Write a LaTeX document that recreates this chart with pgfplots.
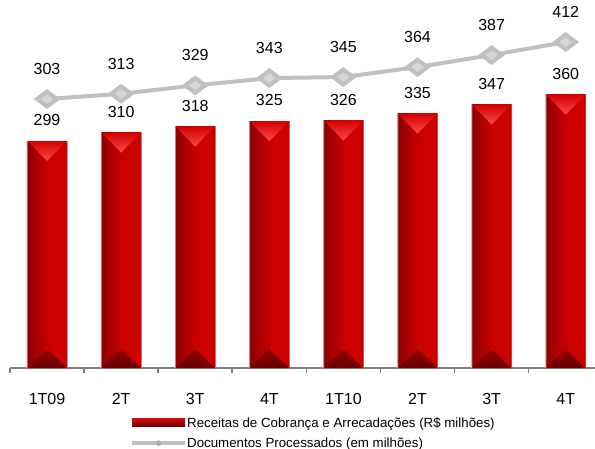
\documentclass[border=0pt]{standalone}
\usepackage{fontspec}
\setmainfont{Liberation Sans}
\usepackage{pgfplots}
\pgfplotsset{compat=1.18}
\definecolor{axgray}{RGB}{128,128,128}
\definecolor{lineGray}{RGB}{192,192,192}
\definecolor{mkGray}{RGB}{214,214,214}
\definecolor{chevTopA}{RGB}{214,0,0}
\definecolor{chevTopB}{RGB}{250,75,75}
\definecolor{chevBotA}{RGB}{105,0,0}
\definecolor{chevBotB}{RGB}{145,0,0}
\pgfdeclarehorizontalshading{barshade}{100bp}{rgb(0bp)=(0.88,0.6,0.6); rgb(25bp)=(0.88,0.6,0.6); rgb(26.5bp)=(0.55,0,0); rgb(38bp)=(0.68,0,0); rgb(49.5bp)=(0.77,0,0); rgb(50.5bp)=(0.80,0,0); rgb(70bp)=(0.81,0,0); rgb(73bp)=(0.76,0,0); rgb(75bp)=(0.95,0.75,0.75); rgb(100bp)=(0.95,0.75,0.75)}
\pgfdeclareplotmark{topchev}{%
  \path[draw=none, top color=chevTopA, bottom color=chevTopB] (-19.5bp,0bp) -- (19.5bp,0bp) -- (0bp,-20bp) -- cycle;}
\pgfdeclareplotmark{botchev}{%
  \path[draw=none, top color=chevBotB, bottom color=chevBotA] (-19.5bp,0bp) -- (19.5bp,0bp) -- (0bp,19bp) -- cycle;}
\pgfplotsset{
  mybar/.style={ybar, bar width=41bp, bar shift=0pt, draw=none, shade, shading=barshade,
    nodes near coords,
    nodes near coords style={font=\fontsize{16bp}{19bp}\selectfont, anchor=center, yshift=21bp, text=black}},
}
\begin{document}
\begin{tikzpicture}
\useasboundingbox (0,0) rectangle (595bp,449bp);
\begin{axis}[
  at={(10bp,81bp)}, anchor=south west, scale only axis,
  width=585bp, height=368bp,
  xmin=-0.5, xmax=7.395, ymin=0, ymax=484.8,
  clip=false,
  axis x line*=bottom, axis y line=none,
  axis line style={draw=axgray, line width=1.6bp},
  xtick={0,...,7}, xticklabels={1T09,2T,3T,4T,1T10,2T,3T,4T},
  major tick length=0pt,
  minor xtick={-0.5,0.5,1.5,2.5,3.5,4.5,5.5,6.5},
  minor tick length=5bp, tick align=outside,
  minor tick style={draw=axgray, line width=1.6bp},
  xticklabel style={font=\fontsize{16bp}{19bp}\selectfont, anchor=base, yshift=-36bp},
  /pgf/number format/assume math mode=true,
  legend style={at={(0.2051,-0.1332)}, anchor=north west, draw=none, fill=none,
    inner sep=0pt, row sep=9bp, font=\fontsize{13.3bp}{16bp}\selectfont,
    nodes={inner sep=0pt},
    /tikz/every even column/.append style={column sep=5bp}},
  legend cell align=left,
]
\addplot[mybar,
  legend image code/.code={\fill[top color={rgb,255:red,210;green,10;blue,10}, bottom color={rgb,255:red,100;green,0;blue,0}] (0bp,-4bp) rectangle (53bp,4bp);}]
  coordinates {(0,299)};
\addlegendentry{Receitas de Cobrança e Arrecadações (R\$ milhões)}
\addplot[mybar, forget plot] coordinates {(1,310)};
\addplot[mybar, forget plot] coordinates {(2,318)};
\addplot[mybar, forget plot] coordinates {(3,325)};
\addplot[mybar, forget plot] coordinates {(4,326)};
\addplot[mybar, forget plot] coordinates {(5,335)};
\addplot[mybar, forget plot] coordinates {(6,347)};
\addplot[mybar, forget plot] coordinates {(7,360)};
\addplot[only marks, mark=botchev, mark options={draw=none, fill=none}, forget plot]
  coordinates {(0,0) (1,0) (2,0) (3,0) (4,0) (5,0) (6,0) (7,0)};
\addplot[only marks, mark=topchev, mark options={draw=none, fill=none}, forget plot]
  coordinates {(0,299) (1,310) (2,318) (3,325) (4,326) (5,335) (6,347) (7,360)};
\addlegendimage{legend image code/.code={\draw[lineGray, line width=4bp] (0bp,0bp) -- (53bp,0bp); \fill[mkGray!80!black] (26.5bp,0bp) circle (2.5bp);}}
\addlegendentry{Documentos Processados (em milhões)}
\end{axis}
\begin{axis}[
  at={(10bp,81bp)}, anchor=south west, scale only axis,
  width=585bp, height=368bp,
  xmin=-0.5, xmax=7.395, ymin=-211.3, ymax=492.3,
  axis lines=none, clip=false,
  /pgf/number format/assume math mode=true,
]
\addplot[color=lineGray, line width=4bp, mark=diamond*, mark size=10bp,
  mark options={rotate=90, fill=mkGray, draw=none},
  nodes near coords,
  nodes near coords style={font=\fontsize{16bp}{19bp}\selectfont, anchor=center, yshift=30bp, text=black}]
  coordinates {(0,303) (1,313) (2,329) (3,343) (4,345) (5,364) (6,387) (7,412)};
\end{axis}
\end{tikzpicture}
\end{document}
